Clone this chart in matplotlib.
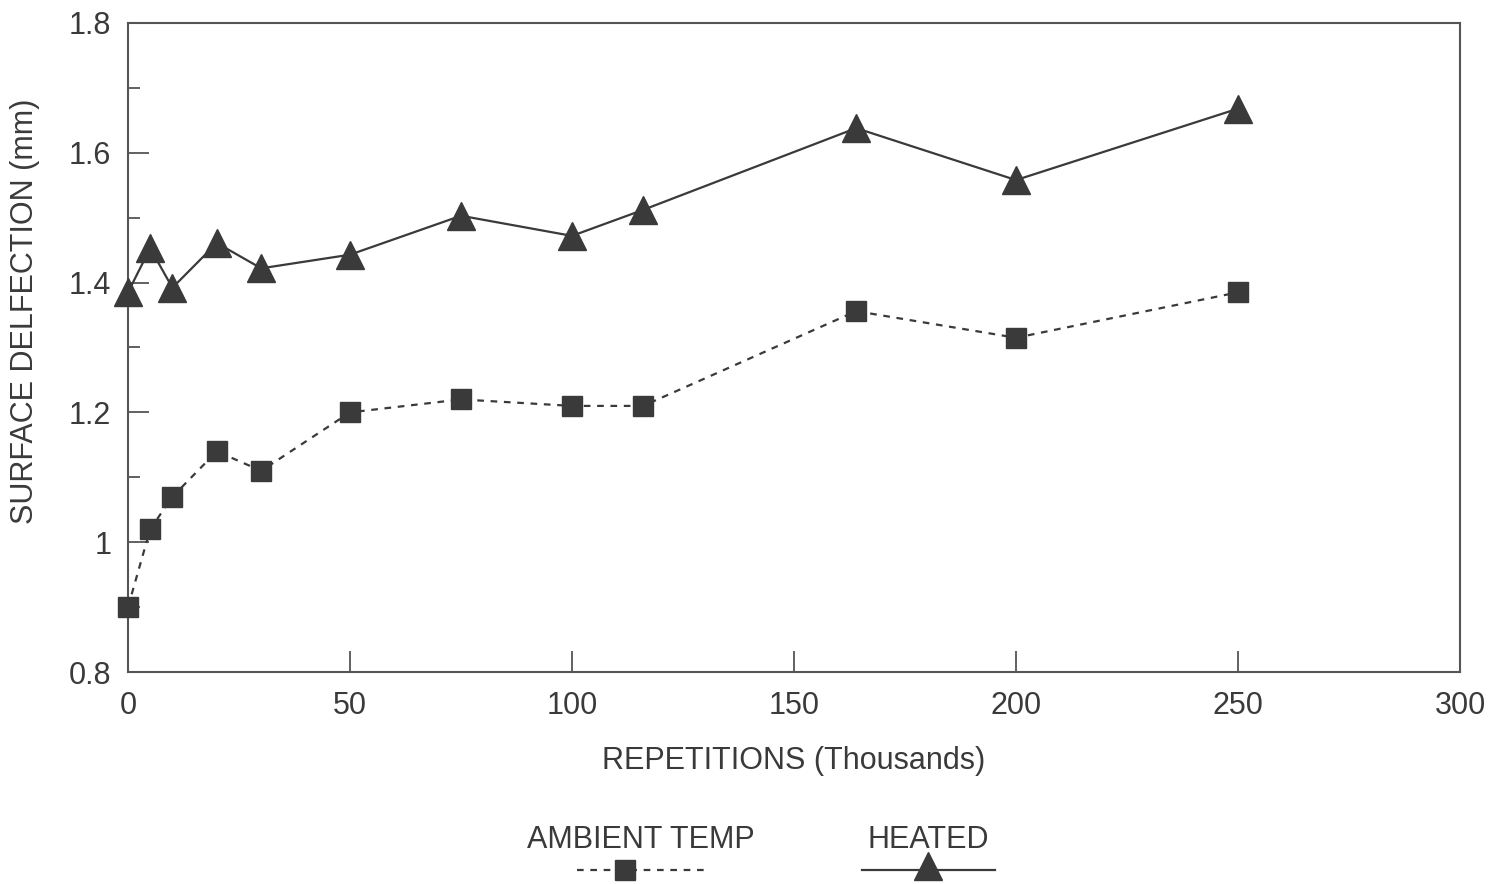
import matplotlib
matplotlib.use("Agg")
import matplotlib.pyplot as plt
from matplotlib.lines import Line2D
from matplotlib.ticker import MultipleLocator

plt.rcParams['font.family'] = ['Liberation Sans', 'DejaVu Sans']

repetitions = [0, 5, 10, 20, 30, 50, 75, 100, 116, 164, 200, 250]
ambient = [0.90, 1.02, 1.07, 1.14, 1.11, 1.20, 1.22, 1.21, 1.21, 1.356, 1.315, 1.385]
heated = [1.385, 1.453, 1.392, 1.461, 1.422, 1.443, 1.503, 1.472, 1.512, 1.638, 1.558, 1.668]

x_ticks = [0, 50, 100, 150, 200, 250, 300]
y_ticks = [0.8, 1.0, 1.2, 1.4, 1.6, 1.8]
y_tick_labels = ['0.8', '1', '1.2', '1.4', '1.6', '1.8']

ink = '#3a3a3a'
spine = '#555555'
fs = 22

fig = plt.figure(figsize=(14.92, 8.84), dpi=100)
ax = fig.add_axes([128/1492, 1-672/884, (1460-128)/1492, (672-23)/884])

ax.plot(repetitions, ambient, color=ink, linestyle=(0, (3, 3)), linewidth=1.6,
        marker='s', markersize=15, markerfacecolor=ink, markeredgecolor=ink,
        clip_on=False, zorder=3)
ax.plot(repetitions, heated, color=ink, linestyle='-', linewidth=1.6,
        marker='^', markersize=20, markerfacecolor=ink, markeredgecolor=ink,
        clip_on=False, zorder=3)

ax.set_xlim(0, 300)
ax.set_ylim(0.8, 1.8)
ax.set_xticks(x_ticks)
ax.set_xticklabels([str(v) for v in x_ticks])
ax.set_yticks(y_ticks)
ax.set_yticklabels(y_tick_labels)
ax.yaxis.set_minor_locator(MultipleLocator(0.1))

ax.tick_params(axis='both', which='major', direction='in', length=15, width=1.3,
               color=spine, labelsize=fs, labelcolor=ink, pad=12)
ax.tick_params(axis='y', which='minor', direction='in', length=8.5, width=1.3, color=spine)
ax.tick_params(axis='x', which='major', pad=14)
for s in ax.spines.values():
    s.set_color(spine)
    s.set_linewidth(1.5)

ax.set_xlabel('REPETITIONS (Thousands)', fontsize=fs, color=ink, labelpad=18)
ax.set_ylabel('SURFACE DELFECTION (mm)', fontsize=fs, color=ink)
ax.yaxis.set_label_coords(-0.066, 0.555)

# custom legend below
fig.text(641/1492, 1-840/884, 'AMBIENT TEMP', ha='center', va='center', fontsize=fs, color=ink)
fig.text(928/1492, 1-840/884, 'HEATED', ha='center', va='center', fontsize=fs, color=ink)
ly = 1-870/884
fig.add_artist(Line2D([577/1492, 705/1492], [ly, ly], transform=fig.transFigure,
                      color=ink, linestyle=(0, (3, 3)), linewidth=1.6))
fig.add_artist(Line2D([625/1492], [ly], transform=fig.transFigure, marker='s',
                      markersize=15, color=ink, linestyle='none'))
fig.add_artist(Line2D([862/1492, 995/1492], [ly, ly], transform=fig.transFigure,
                      color=ink, linestyle='-', linewidth=1.6))
fig.add_artist(Line2D([928/1492], [ly+0.004], transform=fig.transFigure, marker='^',
                      markersize=20, color=ink, linestyle='none'))

fig.savefig('out.png', dpi=100)
